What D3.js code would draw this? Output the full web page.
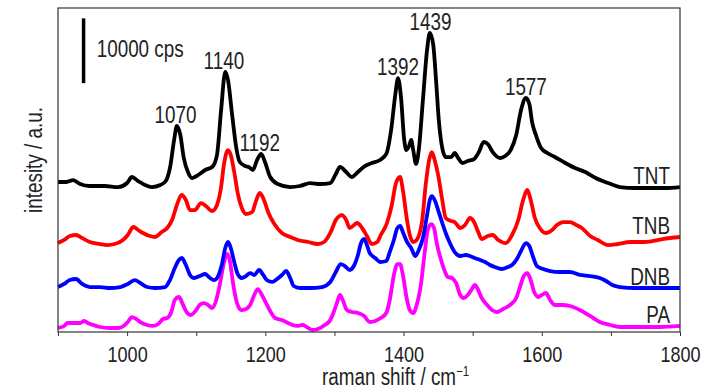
<!DOCTYPE html>
<html>
<head>
<meta charset="utf-8">
<script src="https://cdn.jsdelivr.net/npm/d3@7"></script>
<style>
  body { margin: 0; background: #fff; }
  text { font-family: "Liberation Sans Narrow", "Arial Narrow", "Liberation Sans", sans-serif; fill: #222; }
</style>
</head>
<body>
<div id="chart"></div>
<script>
// spectra: raman shift (cm-1) and counts (cps, stacking offset included)
var tntShift = [900,912,922,932,946,968,987,1000,1007,1016,1026,1036,1048,1056,1062,1068,1072,1077,1082,1088,1094,1103,1113,1123,1130,1136,1142,1146,1152,1158,1163,1171,1176,1182,1188,1194,1200,1207,1218,1236,1250,1265,1279,1294,1302,1308,1317,1325,1334,1344,1354,1366,1375,1382,1388,1392,1396,1401,1404,1408,1411,1414,1418,1422,1428,1434,1438,1443,1447,1451,1456,1461,1469,1474,1479,1485,1493,1502,1509,1516,1522,1529,1540,1547,1555,1563,1570,1577,1582,1586,1592,1599,1608,1619,1634,1648,1663,1678,1696,1713,1735,1757,1778,1800];
var tntCounts = [23150,23150,23450,22840,22530,22530,22370,22990,23920,23300,22680,22370,22680,23300,25310,29630,31790,30400,26850,24690,23760,24230,25000,25460,27310,34250,40120,38880,33480,28390,26230,25610,25460,25000,26540,27470,26080,23920,22840,22370,22530,22990,22840,22990,24380,25460,24690,23920,24690,25610,26080,26540,27470,31170,36570,39190,36570,29630,28080,28700,29630,28080,25920,28080,35800,43510,46140,44280,38880,32710,28390,27000,27000,27620,26850,26080,26390,26690,27770,29320,29010,27770,26850,27160,28080,30400,34250,36110,35180,32400,30240,28390,27620,27000,26080,25310,24690,23760,22990,22370,22220,22220,22220,22370];

var tnbShift = [900,909,917,926,935,946,961,971,982,994,1001,1009,1016,1023,1033,1040,1050,1058,1065,1072,1079,1085,1091,1098,1107,1114,1123,1130,1136,1140,1146,1150,1155,1160,1166,1172,1181,1186,1192,1198,1204,1213,1224,1236,1247,1262,1276,1285,1294,1302,1311,1317,1322,1333,1340,1347,1354,1362,1367,1376,1383,1389,1395,1399,1405,1409,1414,1419,1427,1432,1437,1441,1445,1450,1456,1461,1469,1474,1482,1489,1496,1502,1508,1513,1522,1529,1537,1548,1557,1566,1573,1579,1584,1590,1597,1606,1615,1622,1631,1641,1650,1658,1670,1681,1696,1710,1728,1749,1775,1800];
var tnbCounts = [13730,14200,14810,14970,14500,13890,13580,13420,13580,14200,14970,16200,15740,15280,14810,14660,15430,16050,17280,19600,21140,20370,18820,18820,19900,19440,18670,19600,22370,25770,28080,27310,24690,21450,19130,18210,18520,20060,21450,20370,18520,16660,15280,14660,14200,13890,13580,13890,15280,17280,18050,17280,16050,16820,16050,14810,13580,13890,14970,16820,19600,22990,23920,21910,17280,14970,13890,14200,17280,22680,26540,27770,26540,24230,20370,17590,17130,16970,16050,16510,17590,16970,15430,14350,14810,14970,14200,13730,14970,17280,20370,21910,20370,17590,16050,15280,15740,16510,16970,16970,16510,16050,14810,14200,13420,13580,13890,13890,14350,14660];

var dnbShift = [900,909,917,926,935,946,961,975,990,1001,1011,1019,1029,1040,1055,1062,1069,1075,1079,1085,1091,1097,1105,1113,1120,1126,1133,1137,1142,1146,1150,1155,1160,1166,1172,1178,1184,1191,1197,1202,1210,1217,1224,1230,1236,1241,1250,1265,1282,1294,1302,1309,1315,1322,1328,1334,1338,1343,1347,1351,1359,1366,1375,1380,1386,1391,1395,1399,1405,1411,1417,1422,1428,1434,1438,1441,1445,1450,1456,1461,1467,1474,1482,1490,1496,1503,1511,1518,1525,1532,1542,1551,1557,1564,1570,1577,1582,1587,1593,1602,1612,1626,1641,1655,1670,1684,1693,1702,1713,1735,1757,1800];
var dnbCounts = [6940,7410,8020,8180,7410,6940,6940,6790,6940,7410,8020,7560,6940,6790,6940,8020,9880,11110,11420,10340,8800,8330,8640,8950,8330,8020,8950,10340,12960,13890,12960,10800,8950,8330,8640,9100,8800,9570,8800,8020,7720,8180,8800,9410,8330,7100,6790,6790,6940,7720,9260,10490,10180,9570,10180,11880,13580,14350,13420,12190,11420,10800,10960,12340,14200,16050,16360,15430,13890,12960,11730,12650,14500,18050,20370,20980,20370,18820,16820,15280,13730,12340,11730,11880,11730,11420,11110,10800,10340,10030,9720,10030,10340,11260,12500,13730,13270,11730,10180,9720,9410,9260,9260,8800,8640,8330,7870,7250,6940,6790,6790,6790];

var paShift = [900,909,914,925,932,938,943,951,961,975,987,995,1001,1007,1013,1019,1029,1037,1045,1052,1058,1064,1069,1075,1081,1087,1092,1100,1105,1111,1117,1123,1129,1134,1140,1145,1149,1153,1159,1165,1172,1178,1184,1189,1195,1201,1207,1214,1224,1236,1246,1254,1262,1268,1276,1286,1294,1299,1304,1308,1312,1318,1325,1334,1343,1351,1359,1367,1375,1380,1386,1391,1395,1399,1405,1409,1414,1419,1425,1431,1435,1440,1444,1448,1453,1459,1464,1470,1476,1482,1487,1493,1499,1503,1508,1513,1521,1528,1535,1544,1554,1563,1568,1574,1579,1583,1589,1595,1600,1606,1612,1619,1629,1641,1655,1670,1684,1699,1713,1742,1771,1800];
var paCounts = [620,930,1390,1390,1390,1700,1390,1080,770,620,620,930,1540,2310,2010,1540,1080,930,1230,2010,2160,3090,4940,5400,4170,2930,2620,3390,4170,4470,4170,3700,4940,7250,10650,12040,10800,7720,4470,3390,3550,4170,5710,6630,5710,4470,3240,2160,1850,1230,930,1080,620,310,460,1080,1850,3090,4630,5710,4940,3390,3090,2930,2470,1540,1700,2160,2930,4940,8800,10490,10490,8800,4940,3390,2930,4170,7250,12650,15740,16660,16050,13730,11570,9570,8490,8330,7560,5710,5250,5710,6630,7250,6480,5250,4170,3390,3090,3550,4170,5250,6790,8640,9100,8330,6170,5400,5710,6020,4940,4170,4170,4010,3390,2470,1540,1080,770,770,770,930];

var seriesNames = ["TNT", "TNB", "DNB", "PA"];
var seriesColors = ["#000000", "#ff0000", "#0000ff", "#ff00ff"];
var peakLabels = [1070, 1140, 1192, 1392, 1439, 1577];
var xTicks = [900, 1000, 1100, 1200, 1300, 1400, 1500, 1600, 1700, 1800];
var scaleBarCps = 10000;

var width = 726, height = 390;
var margin = {top: 8, right: 46, bottom: 58, left: 58};
var narrow = 0.82; // the original uses a narrow face; squeeze the fallback font

var svg = d3.select("#chart")
  .append("svg")
    .attr("width", width)
    .attr("height", height);

var x = d3.scaleLinear().domain([900, 1800]).range([margin.left, width - margin.right]);
var y = d3.scaleLinear().domain([0, 50000]).range([height - margin.bottom, margin.top]);

// squeeze texts horizontally around their own anchor point
function squeeze(sel) {
  sel.each(function() {
    var t = d3.select(this);
    var bx = +t.attr("x") || 0, by = +t.attr("y") || 0;
    var prev = t.attr("transform") || "";
    t.attr("transform", prev + " translate(" + bx + "," + by + ") scale(" + narrow + ",1) translate(" + (-bx) + "," + (-by) + ")");
  });
}

var spectra = [
  {name: seriesNames[0], shift: tntShift, counts: tntCounts},
  {name: seriesNames[1], shift: tnbShift, counts: tnbCounts},
  {name: seriesNames[2], shift: dnbShift, counts: dnbCounts},
  {name: seriesNames[3], shift: paShift, counts: paCounts}
];

var line = d3.line()
  .x(d => x(d[0]))
  .y(d => y(d[1]))
  .curve(d3.curveMonotoneX);

// draw bottom series first so TNT stays on top
svg.append("g")
  .selectAll("path")
  .data(spectra.slice().reverse())
  .join("path")
    .attr("fill", "none")
    .attr("stroke", (d, i) => seriesColors[3 - i])
    .attr("stroke-width", 3.8)
    .attr("stroke-linejoin", "round")
    .attr("d", d => line(d3.zip(d.shift, d.counts)));

// frame
svg.append("rect")
  .attr("x", margin.left)
  .attr("y", margin.top)
  .attr("width", width - margin.left - margin.right)
  .attr("height", height - margin.top - margin.bottom)
  .attr("fill", "none")
  .attr("stroke", "#333")
  .attr("stroke-width", 1.2);

// x axis
var xAxis = svg.append("g")
  .attr("transform", "translate(0," + (height - margin.bottom) + ")")
  .call(d3.axisBottom(x)
    .tickValues(xTicks)
    .tickSize(4)
    .tickPadding(10)
    .tickFormat(d => d % 200 === 0 ? d : ""));
xAxis.select(".domain").remove();
xAxis.selectAll(".tick line").attr("stroke", "#333");
xAxis.selectAll(".tick text")
  .attr("font-size", 22)
  .attr("font-family", null)
  .attr("fill", "#222")
  .call(squeeze);

// axis titles
var xTitle = svg.append("text")
  .attr("x", 322)
  .attr("y", 385)
  .attr("font-size", 23);
xTitle.append("tspan").text("raman shift / cm");
xTitle.append("tspan").attr("font-size", 14).attr("dy", -9).text("\u22121");
xTitle.call(squeeze);

svg.append("text")
  .attr("transform", "translate(42,160) rotate(-90) scale(" + narrow + ",1)")
  .attr("text-anchor", "middle")
  .attr("font-size", 23)
  .text("intesity / a.u.");

// peak labels above TNT
svg.append("g")
  .selectAll("text")
  .data(peakLabels)
  .join("text")
    .attr("x", d => x(d))
    .attr("y", function(d) {
      var top = 0;
      tntShift.forEach(function(s, i) {
        if (Math.abs(s - d) <= 6 && tntCounts[i] > top) top = tntCounts[i];
      });
      return y(top) - 3;
    })
    .attr("text-anchor", "middle")
    .attr("font-size", 23)
    .text(d => d)
    .call(squeeze);

// series names at the right, just above each tail
svg.append("g")
  .selectAll("text")
  .data(spectra)
  .join("text")
    .attr("x", x(1800) - 10)
    .attr("y", d => y(d.counts[d.counts.length - 1]) - 3)
    .attr("text-anchor", "end")
    .attr("font-size", 23)
    .text(d => d.name)
    .call(squeeze);

// intensity scale bar
var barBase = 38400;
svg.append("line")
  .attr("x1", x(937)).attr("x2", x(937))
  .attr("y1", y(barBase)).attr("y2", y(barBase + scaleBarCps))
  .attr("stroke", "#000")
  .attr("stroke-width", 3.5);
svg.append("text")
  .attr("x", x(956))
  .attr("y", 57)
  .attr("font-size", 23)
  .text("10000 cps")
  .call(squeeze);
</script>
</body>
</html>
